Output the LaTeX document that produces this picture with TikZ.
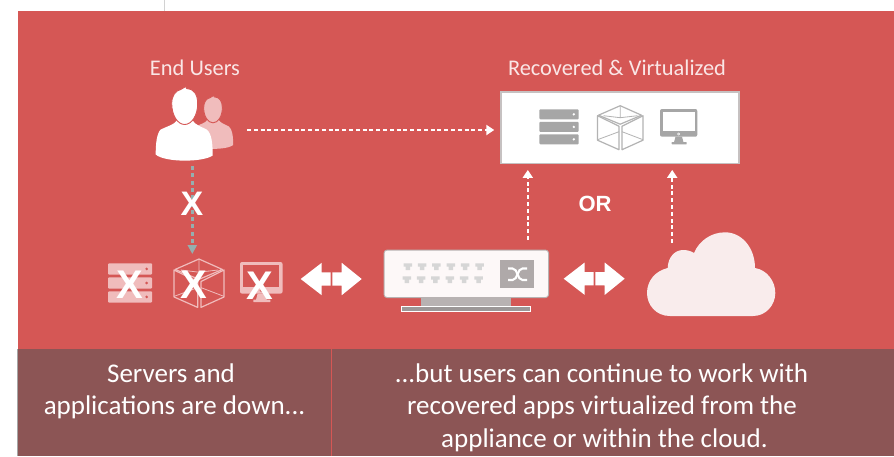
\documentclass[tikz,border=0pt]{standalone}
\usepackage{fontspec}
\setmainfont{Carlito}
\newfontfamily\markfont{Liberation Sans}
\usetikzlibrary{arrows.meta}
\definecolor{slidered}{HTML}{D55755}
\definecolor{bandbrown}{HTML}{8C5555}
\definecolor{iconpink}{HTML}{F0BCBC}
\definecolor{icongray}{HTML}{A6A6A6}
\definecolor{labelpink}{HTML}{FAE6E6}
\definecolor{standgray}{HTML}{B8B2B2}
\definecolor{cloudpink}{HTML}{F9ECEC}
\tikzset{
	spot/.style={inner sep=0,outer sep=0},
	dotline/.style={white,line width=2.5,dash pattern=on 4 off 2.8,-{Triangle[length=8,width=10]}},
	downline/.style={draw=#1,line width=2.4,dash pattern=on 4 off 3.3,-{Triangle[length=9,width=9,fill=#1]}},
	toplabel/.style={labelpink,font=\fontsize{22.4}{26}\selectfont,anchor=base},
	bandtext/.style={white,font=\fontsize{27}{32}\selectfont,anchor=base},
	crossmark/.style={white,font=\markfont\bfseries\fontsize{#1}{#1}\selectfont},
	pics/person/.style={code={
		\fill[#1] (-8,33) .. controls (-10,37) and (-18,39) .. (-24,42) .. controls (-28,46) and (-29,56) .. (-29,67)
			.. controls (-20,75) and (18,75) .. (28,68) .. controls (28,56) and (27,46) .. (22,42)
			.. controls (16,39) and (10,37) .. (8,33) -- cycle;
		\filldraw[fill=#1,draw=slidered,line width=0.9] (-4,2) -- (1,-1) -- (2,1) .. controls (9,1) and (13,7) .. (13,16) .. controls (13,28) and (7,37) .. (0,37)
			.. controls (-7,37) and (-13,28) .. (-13,16) .. controls (-13,8) and (-9,3) .. (-4,2) -- cycle;
	}},
	pics/serverstack/.style n args={2}{code={
		\foreach \rowtop in {0,12.6,25}{
			\fill[#1,rounded corners=1] (0,\rowtop) rectangle (39.4,\rowtop+10);
			\fill[#2] (34.5,\rowtop+5) circle (1.3);
		}
	}},
	pics/wirecube/.style={code={
		\draw[#1,line width=1.2,line join=round] (22.7,0) -- (44,9.5) -- (22.7,18.5) -- (1,9.5) -- cycle;
		\draw[#1,line width=0.8] (22.7,0) -- (22.7,12) (6,10) -- (22.7,12) -- (40,10);
		\draw[#1,line width=1.2,line join=round] (0,10) -- (21.5,20.5) -- (21.5,44) -- (0,34.5) -- cycle;
		\draw[#1,line width=1.2,line join=round] (24.5,20.5) -- (45.5,10) -- (45.5,34.5) -- (24.5,44) -- cycle;
		\draw[#1,line width=0.8] (0,34) -- (21.5,26) (24.5,26) -- (45.5,34);
	}},
	pics/screenicon/.style n args={2}{code={
		\fill[#1,rounded corners=2] (0,0) rectangle (37.3,27.7);
		\fill[#2] (2.7,2.7) rectangle (34.6,22);
		\draw[#2,line width=0.5] (18.6,25) circle (1.1);
		\fill[#1] (15.5,27.7) -- (22,27.7) -- (23.5,33.3) -- (14,33.3) -- cycle;
		\fill[#1,rounded corners=0.5] (11.7,33) rectangle (26.7,35.3);
	}},
	pics/swaparrow/.style={code={
		\fill[white] (0,0) -- (21,-16.2) -- (21,-6.6) -- (30,-6.6) -- (30,6.6) -- (21,6.6) -- (21,16.2) -- cycle;
		\fill[white] (61,0) -- (41,-16.2) -- (41,-6.6) -- (31.6,-6.6) -- (31.6,6.6) -- (41,6.6) -- (41,16.2) -- cycle;
	}},
}
\begin{document}
\begin{tikzpicture}[x=1pt,y=-1pt]
	\useasboundingbox (0,0) rectangle (894,456);
	\fill[white] (0,0) rectangle (894,456);
	\draw[gray!35,line width=0.7] (164.5,0) -- (164.5,11);
	\fill[slidered] (18,11) rectangle (894,349);
	\fill[bandbrown] (17.5,349) rectangle (894,456);
	\draw[gray!70,line width=0.7] (17.3,349) -- (17.3,456);
	\draw[slidered,line width=0.8] (331.5,349) -- (331.5,456);
	% labels
	\node[toplabel] (userlabel) at (195,75.5) {End Users};
	\node[toplabel] (reclabel) at (617,75.5) {Recovered \& Virtualized};
	\node[crossmark=22] (orlabel) at (595,204) {OR};
	% end users
	\pic at (213,96.2) [scale=0.72] {person=iconpink};
	\pic at (184.7,87.5) {person=white};
	\node[spot,minimum width=109.4,minimum height=72] (users) at (192.3,130) {};
	% recovered box
	\node[spot,draw=standgray!80,line width=1.5,fill=white,minimum width=238,minimum height=71.5] (recbox) at (619.8,127.7) {};
	\pic at (539.3,109.3) {serverstack={icongray}{white}};
	\pic at (597.5,105.7) {wirecube=icongray!85};
	\pic at (660,109) {screenicon={icongray}{white}};
	% down icons
	\pic at (108,263.3) [scale=1.12] {serverstack={iconpink}{slidered}};
	\pic at (174,259) [scale=1.1] {wirecube=iconpink};
	\pic at (240,262) [scale=1.14] {screenicon={iconpink}{slidered}};
	\node[spot,minimum width=50,minimum height=54] (downcube) at (192.3,281) {};
	\node[crossmark=40] (crossa) at (130,284.5) {X};
	\node[crossmark=40] (crossb) at (194,284.5) {X};
	\node[crossmark=40] (crossc) at (260,285.5) {X};
	% appliance
	\fill[standgray] (421,297) rectangle (511,305.5);
	\filldraw[fill=standgray!85!black,draw=white,line width=0.8] (401.7,306) rectangle (530.5,311.5);
	\node[spot,draw=standgray,line width=0.9,fill=white!96!slidered,rounded corners=3,minimum width=164.5,minimum height=47.5] (appliance) at (466.3,273.8) {};
	\foreach \i in {0,...,5}{
		\fill[gray!32] (403.5+14.35*\i,263.3) rectangle ++(8.5,3.2) (405.5+14.35*\i,266.5) rectangle ++(4.5,3.7);
		\fill[gray!32] (402.5+14.35*\i,276.3) rectangle ++(8.5,3.2) (404.5+14.35*\i,279.5) rectangle ++(4.5,3.7);
	}
	\fill[standgray!95!black] (500,260) rectangle (534,288);
	\draw[white,line width=2.1] (508,268.5) -- (512.5,268.5) .. controls (518,268.5) and (517,280) .. (522.5,280) -- (527,280);
	\draw[white,line width=2.1] (508,280) -- (512.5,280) .. controls (518,280) and (517,268.5) .. (522.5,268.5) -- (527,268.5);
	% cloud
	\fill[cloudpink] (670,316) .. controls (656,316) and (647,305) .. (647,293) .. controls (647,281) and (655,271) .. (667.7,268)
		.. controls (668,257) and (675,250) .. (683,250) .. controls (687,250) and (691,251) .. (694,253)
		.. controls (699,241) and (711,232.3) .. (725,232.3) .. controls (742,232.3) and (755,248) .. (755,268)
		.. controls (767,270) and (775.3,281) .. (775.3,293) .. controls (775.3,305) and (766,316) .. (753,316) -- cycle;
	\node[spot,minimum width=129,minimum height=84] (cloud) at (711.5,274) {};
	% arrows between parts
	\pic at (300.7,279) {swaparrow};
	\pic at (563.7,278.7) {swaparrow};
	\coordinate (upa) at (527.8,240);
	\coordinate (upb) at (672.2,243);
	\draw[dotline,shorten >=6.5] (users.east) -- (users.east -| recbox.west);
	\draw[dotline,shorten >=6.5] (upa) -- (upa |- recbox.south);
	\draw[dotline,shorten >=6.5] (upb) -- (upb |- recbox.south);
	\draw[downline=icongray!90!cyan] (users.south) -- (downcube.north);
	\node[crossmark=34] (crossd) at (192,204) {X};
	% bottom band
	\node[bandtext] (downa) at (171,382) {Servers and};
	\node[bandtext] (downb) at (174.5,414) {applications are down...};
	\node[bandtext] (worka) at (601.5,382) {...but users can continue to work with};
	\node[bandtext] (workb) at (602,414) {recovered apps virtualized from the};
	\node[bandtext] (workc) at (604.5,447) {appliance or within the cloud.};
\end{tikzpicture}
\end{document}
